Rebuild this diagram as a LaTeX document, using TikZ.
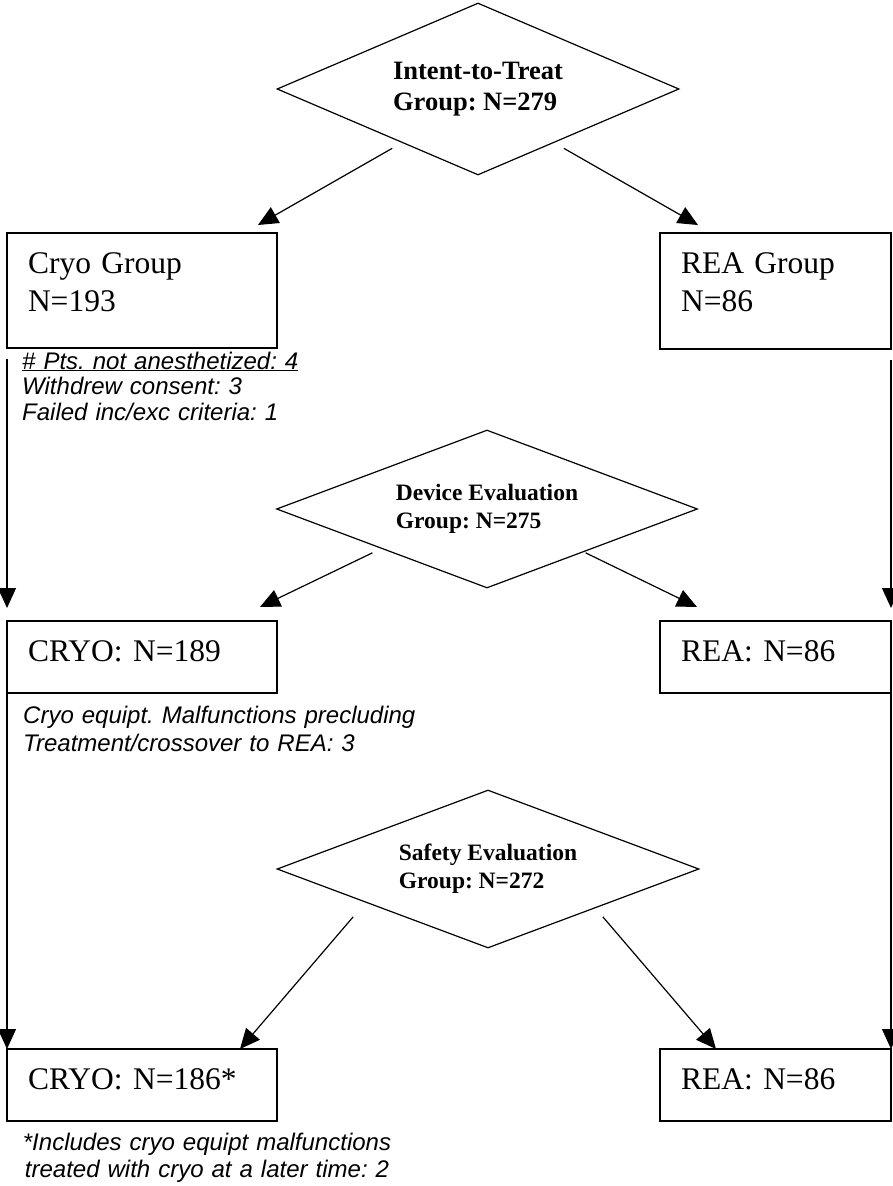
\documentclass[tikz,border=0pt]{standalone}
\usepackage{fontspec}
\setmainfont{Liberation Serif}
\setsansfont{Liberation Sans}
\usetikzlibrary{arrows.meta, shapes.geometric, positioning}
\frenchspacing

\begin{document}
\begin{tikzpicture}[x=1pt, y=-1pt,
    decision/.style={diamond, draw, line width=1.2pt, inner sep=0pt, align=left,
                     font=\bfseries\fontsize{23.5}{28}\selectfont},
    grp/.style={draw, line width=1.2pt, anchor=north west, inner xsep=21pt, inner ysep=0pt,
                outer sep=0pt, text height=40pt, align=left,
                font=\fontsize{31.5}{38}\selectfont},
    note/.style={anchor=base west, inner sep=0pt, align=left,
                 font=\sffamily\itshape\fontsize{24}{25.5}\selectfont},
    ar/.style={-{Triangle[length=20pt, width=18pt]}, line width=1.2pt}
  ]
  \useasboundingbox (0,0) rectangle (893,1186);

  % randomised groups
  \node[decision, aspect=2.34, minimum width=402pt, minimum height=172pt,
        font=\bfseries\fontsize{26.5}{31}\selectfont] (itt) at (478,89) {Intent-to-Treat\\Group: N=279};
  \node[grp, text width=228pt, text depth=75pt] (cryoGrp) at (7,233) {Cryo Group\\N=193};
  \node[grp, text width=189pt, text depth=76pt] (reaGrp) at (660,233) {REA Group\\N=86};
  \node[note, text width=290pt] (lossA) at (22,369)
    {\underline{\# Pts. not anesthetized: 4}\\Withdrew consent: 3\\Failed inc/exc criteria: 1};

  % device evaluation
  \node[decision, aspect=2.66, minimum width=421pt, minimum height=158pt] (dev) at (487,509)
    {Device Evaluation\\Group: N=275};
  \node[grp, text width=228pt, text depth=32pt] (cryoDev) at (7,621) {CRYO: N=189};
  \node[grp, text width=189pt, text depth=32pt] (reaDev) at (660,621) {REA: N=86};
  \node[note, text width=400pt, font=\sffamily\itshape\fontsize{24}{28}\selectfont] (lossB) at (23,723)
    {Cryo equipt. Malfunctions precluding\\Treatment/crossover to REA: 3};

  % safety evaluation
  \node[decision, aspect=2.66, minimum width=422pt, minimum height=158pt] (saf) at (488,869)
    {Safety Evaluation\\Group: N=272};
  \node[grp, text width=228pt, text depth=32pt] (cryoSaf) at (7,1049) {CRYO: N=186*};
  \node[grp, text width=189pt, text depth=32pt] (reaSaf) at (660,1049) {REA: N=86};
  \node[note, anchor=base, align=center, text width=400pt,
        font=\sffamily\itshape\fontsize{24}{27}\selectfont] (footC) at (207,1150)
    {*Includes cryo equipt malfunctions\\treated with cryo at a later time: 2};

  % connectors
  \draw[ar] ([shift={(15,16)}]itt.south west) -- ([shift={(-19,-8)}]cryoGrp.north east);
  \draw[ar] ([shift={(-15,16)}]itt.south east) -- ([shift={(38,-8)}]reaGrp.north west);
  \draw[ar] ([shift={(0,11)}]cryoGrp.south west) -- ([shift={(0,-13)}]cryoDev.north west);
  \draw[ar] ([shift={(0,11)}]reaGrp.south east) -- ([shift={(0,-13)}]reaDev.north east);

  \draw[ar] ([shift={(-9,4)}]dev.south west) -- ([shift={(-17,-14)}]cryoDev.north east);
  \draw[ar] ([shift={(-7,4)}]dev.south east) -- ([shift={(37,-14)}]reaDev.north west);
  \draw[ar] (cryoDev.south west) -- (cryoSaf.north west);
  \draw[ar] (reaDev.south east) -- (reaSaf.north east);

  \draw[ar] ([shift={(-29,8)}]saf.south west) -- ([shift={(-37,0)}]cryoSaf.north east);
  \draw[ar] ([shift={(9,8)}]saf.south east) -- ([shift={(56,0)}]reaSaf.north west);
\end{tikzpicture}
\end{document}
